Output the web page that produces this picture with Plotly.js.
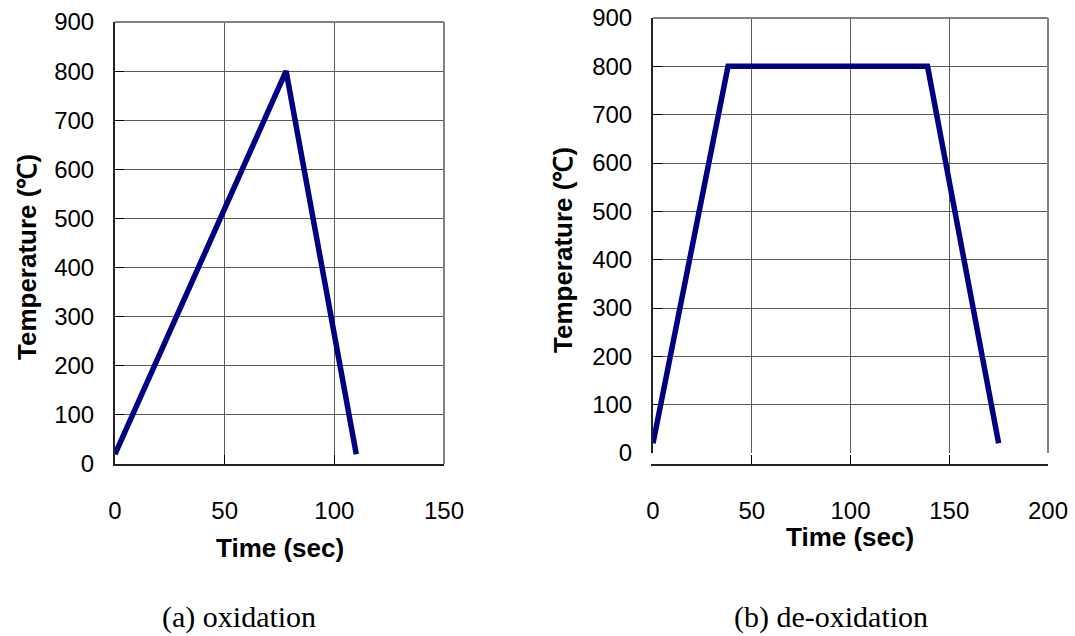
<!DOCTYPE html>
<html>
<head>
<meta charset="utf-8">
<script src="https://cdn.plot.ly/plotly-3.0.1.min.js"></script>
<style>html,body{margin:0;padding:0;background:#fff;}#chart{width:1075px;height:636px;}</style>
</head>
<body>
<div id="chart"></div>
<script>
// (a) oxidation
const timeA = [0, 78, 110];
const tempA = [20, 800, 20];
// (b) de-oxidation
const timeB = [0, 38, 139, 175];
const tempB = [20, 800, 800, 20];
const yTicks = [0, 100, 200, 300, 400, 500, 600, 700, 800, 900];
const xTicksA = [0, 50, 100, 150];
const xTicksB = [0, 50, 100, 150, 200];
const xTitle = 'Time (sec)';
const yTitle = 'Temperature (℃)';
const captionA = '(a) oxidation';
const captionB = '(b) de-oxidation';

const W = 1075, H = 636;
const tickFont = {family: 'Liberation Sans, Arial, sans-serif', size: 24, color: '#000'};
const titleFont = {family: 'Liberation Sans, Arial, sans-serif', size: 26, color: '#000'};
const capFont = {family: 'Liberation Serif, Times New Roman, serif', size: 30, color: '#000'};

function xax(domain, range, ticks) {
  return {domain: domain, range: range, tickvals: ticks, ticktext: ticks.map(String),
    showgrid: true, gridcolor: '#5a5a5a', gridwidth: 1, zeroline: false,
    showline: true, linecolor: '#222', linewidth: 2,
    ticks: 'inside', ticklen: 9, tickcolor: '#000', tickwidth: 1,
    tickfont: tickFont, ticklabelstandoff: 24, fixedrange: true};
}
function yax(domain, anchor) {
  return {domain: domain, range: [0, 900], tickvals: yTicks, ticktext: yTicks.map(String),
    anchor: anchor,
    showgrid: true, gridcolor: '#5a5a5a', gridwidth: 1, zeroline: false,
    showline: true, linecolor: '#222', linewidth: 2,
    ticks: 'inside', ticklen: 9, tickcolor: '#000', tickwidth: 1,
    tickfont: tickFont, ticklabelstandoff: 14, fixedrange: true};
}

const traces = [
  {x: timeA, y: tempA, type: 'scatter', mode: 'lines', xaxis: 'x', yaxis: 'y',
   line: {color: '#000080', width: 5.5}, hoverinfo: 'skip'},
  {x: timeB, y: tempB, type: 'scatter', mode: 'lines', xaxis: 'x2', yaxis: 'y2',
   line: {color: '#000080', width: 5.5}, hoverinfo: 'skip'}
];

const layout = {
  width: W, height: H, margin: {l: 0, r: 0, t: 0, b: 0},
  paper_bgcolor: '#fff', plot_bgcolor: '#fff', showlegend: false,
  xaxis: xax([115 / W, 444 / W], [0, 150], xTicksA),
  yaxis: yax([(H - 464) / H, (H - 22) / H], 'x'),
  xaxis2: xax([653 / W, 1048 / W], [0, 200], xTicksB),
  yaxis2: yax([(H - 453) / H, (H - 18) / H], 'x2'),
  shapes: [
    {type: 'line', xref: 'x domain', yref: 'y domain', x0: 0, x1: 1, y0: 1, y1: 1, line: {color: '#808080', width: 2}},
    {type: 'line', xref: 'x domain', yref: 'y domain', x0: 1, x1: 1, y0: 0, y1: 1, line: {color: '#808080', width: 2}},
    {type: 'line', xref: 'x2 domain', yref: 'y2 domain', x0: 0, x1: 1, y0: 1, y1: 1, line: {color: '#808080', width: 2}},
    {type: 'line', xref: 'x2 domain', yref: 'y2 domain', x0: 1, x1: 1, y0: 0, y1: 1, line: {color: '#808080', width: 2}}
  ],
  annotations: [
    {text: '<b>' + xTitle + '</b>', xref: 'paper', yref: 'paper', x: 280 / W, y: (H - 548) / H,
     xanchor: 'center', yanchor: 'middle', showarrow: false, font: titleFont},
    {text: '<b>' + yTitle + '</b>', xref: 'paper', yref: 'paper', x: 27 / W, y: (H - 257) / H,
     xanchor: 'center', yanchor: 'middle', showarrow: false, textangle: -90, font: titleFont},
    {text: '<b>' + xTitle + '</b>', xref: 'paper', yref: 'paper', x: 850 / W, y: (H - 537) / H,
     xanchor: 'center', yanchor: 'middle', showarrow: false, font: titleFont},
    {text: '<b>' + yTitle + '</b>', xref: 'paper', yref: 'paper', x: 563 / W, y: (H - 250) / H,
     xanchor: 'center', yanchor: 'middle', showarrow: false, textangle: -90, font: titleFont},
    {text: captionA, xref: 'paper', yref: 'paper', x: 239 / W, y: (H - 617) / H,
     xanchor: 'center', yanchor: 'middle', showarrow: false, font: capFont},
    {text: captionB, xref: 'paper', yref: 'paper', x: 831 / W, y: (H - 617) / H,
     xanchor: 'center', yanchor: 'middle', showarrow: false, font: capFont}
  ]
};

Plotly.newPlot('chart', traces, layout, {displayModeBar: false, staticPlot: true});
</script>
</body>
</html>
